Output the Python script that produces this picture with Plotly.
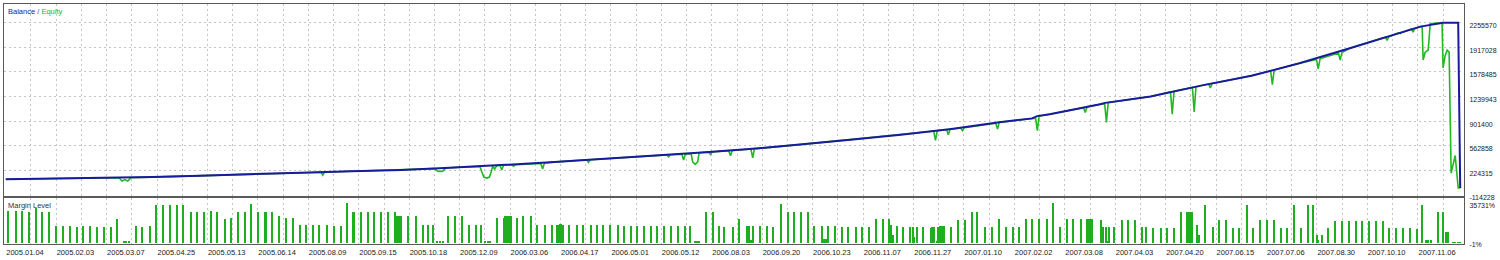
import plotly.graph_objects as go

# ---------------- data ----------------
bal_t = [0, 38, 58, 77, 97, 117, 137, 157, 176, 196, 216, 236, 256, 276, 295, 315, 335, 355, 375,
         394, 407, 409, 414, 434, 436, 454, 474, 494, 513, 533, 545, 561, 570, 576, 576.8]
bal_v = [100000, 116000, 129500, 149800, 174200, 190500, 210800, 228400, 258200, 292000, 332600,
         380000, 420700, 468100, 515500, 576400, 644100, 711800, 793100, 883800, 938000, 969100,
         996200, 1131600, 1151900, 1239900, 1388900, 1524300, 1696300, 1903500, 2034800, 2201400,
         2255570, 2255570, -19400]

eq_t = [0, 38, 44.9, 46.1, 47.2, 48.4, 49.6, 58, 77, 97, 117, 125.0, 125.7, 126.4, 137, 157,
        170.0, 171.3, 172.3, 173.3, 174.3, 176, 188.0, 188.8, 189.6, 190.8, 191.8, 192.5, 193.1,
        193.9, 194.6, 196, 196.7, 197.4, 200.7, 201.4, 202.1, 212.2, 212.9, 213.6, 216, 230.4,
        231.1, 231.8, 236, 256, 262.2, 262.9, 263.6, 268.1, 268.8, 269.5, 271.8, 272.4, 273.4,
        274.4, 275.0, 276, 278.8, 279.5, 280.2, 286.7, 287.4, 288.1, 295.5, 296.2, 296.9, 315,
        335, 355, 368.0, 368.7, 369.4, 373.1, 373.8, 374.5, 378.7, 379.4, 380.1, 392.6, 393.3,
        394.0, 407, 408.4, 409.1, 409.8, 414, 427.4, 428.1, 428.8, 434, 435.8, 436.5, 437.2, 454,
        461.9, 462.6, 463.3, 470.6, 471.3, 472.0, 474, 477.0, 477.7, 478.4, 494, 501.6, 502.3,
        503.0, 513, 519.8, 520.5, 521.2, 528.5, 529.2, 529.9, 533, 545, 547.1, 547.8, 548.5,
        552.3, 553.0, 553.7, 557.4, 558.1, 558.8, 561, 561.7, 562.1, 562.9, 564.1, 564.9, 569.6,
        570.0, 570.8, 571.6, 572.4, 573.2, 574.8, 576.0, 576.8]
eq_v = [100000, 116000, 120700, 75400, 95700, 75400, 122000, 129500, 149800, 174200, 190500,
        196500, 156600, 196800, 210800, 228400, 246000, 212000, 206700, 212000, 248500, 258200,
        278000, 200000, 130000, 116000, 130000, 200000, 280000, 241900, 282000, 292000, 228400,
        292500, 298000, 278500, 300000, 318000, 241900, 320000, 332600, 368000, 332600, 370000,
        380000, 420700, 435000, 409800, 437500, 446500, 363800, 449000, 453000, 340000, 305600,
        340000, 466000, 468100, 473000, 441000, 476000, 494000, 423400, 496000, 516000, 396300,
        519000, 576400, 644100, 711800, 764000, 634600, 768000, 784000, 711800, 788000, 805000,
        770000, 809000, 872000, 793100, 883800, 938000, 940000, 770000, 969100, 996200, 1085000,
        1019200, 1096000, 1131600, 1140000, 883800, 1153000, 1239900, 1305000, 996200, 1312000,
        1365000, 1027300, 1373000, 1388900, 1414000, 1357800, 1419000, 1524300, 1595000, 1402400,
        1603000, 1696300, 1750000, 1619100, 1758000, 1838000, 1741000, 1846000, 1903500, 2034800,
        2057000, 2011800, 2062000, 2117000, 2106600, 2122000, 2170000, 2124200, 2177000, 2201400,
        2203000, 1741000, 1849300, 1876400, 2242000, 2255570, 1632700, 1800000, 1876400, 1849300,
        183700, 427400, -19400, -19400]

margin_t = [0.8, 4.0, 6.7, 9.3, 12.0, 14.6, 17.2, 19.9, 22.8, 25.4, 28.2, 30.7, 33.5, 36.4, 39.0,
            41.7, 44.4, 46.8, 47.8, 48.8, 51.6, 54.3, 57.2, 59.5, 62.6, 65.2, 67.9, 70.5, 73.4,
            76.1, 78.7, 81.3, 84.0, 86.9, 89.5, 92.2, 94.8, 97.5, 100.2, 103.1, 105.8, 108.4,
            111.1, 114.0, 116.6,
            119.0, 121.8, 124.5, 127.3, 130.1, 132.9, 135.6, 138.0, 140.8, 143.6, 146.3, 149.1,
            151.5, 154.3, 155.0, 155.7, 156.4, 157.0, 159.8, 162.6, 165.4, 167.7, 169.7, 171.3,
            172.3, 173.3, 175.3, 178.4, 181.2, 184.0, 186.4, 188.7, 190.3, 191.3, 192.3, 195.1,
            197.5, 198.1, 198.8, 199.5, 200.3, 203.0, 205.4, 208.2, 210.9, 214.1, 216.9, 218.9,
            219.7, 220.4, 221.2, 223.6, 226.8, 229.2, 232.0, 234.7,
            237.1, 239.9, 242.7, 245.4, 248.2, 250.6, 253.3, 256.1, 258.5, 261.3, 264.0, 266.8,
            269.6, 271.6, 273.3, 274.2, 275.1, 277.9, 280.7, 283.1, 285.1, 288.6, 291.0, 294.2,
            294.7, 295.6, 296.5, 299.3, 302.1, 304.5, 307.6, 310.4, 312.8, 315.6, 318.4, 320.7,
            323.9, 324.6, 325.2, 326.3, 329.1, 331.8, 334.2, 337.4, 339.8, 342.5, 345.3, 348.1,
            350.5, 351.3, 352.0, 353.6,
            356.0, 358.8, 360.0, 360.4, 361.5, 363.9, 367.1, 367.5, 368.3, 369.5, 369.9, 370.7,
            371.5, 372.3, 375.0, 377.8, 380.6, 383.3, 385.3, 388.5, 391.3, 394.0, 396.8, 399.6,
            402.0, 404.8, 407.1, 409.9, 413.1, 415.5, 418.2, 421.0, 423.4, 426.5, 428.9, 429.7,
            430.5, 430.9, 434.5, 435.3, 436.5, 437.1, 437.7, 439.6, 442.8, 445.2, 448.0, 450.7,
            452.3, 455.1, 458.3, 460.6, 463.4, 466.2, 468.6, 469.2, 469.8, 470.5, 472.5, 473.3,
            475.7, 478.9, 481.3, 484.1, 486.8, 489.2, 492.3, 494.7, 497.5, 500.3, 503.1, 505.8,
            508.2, 511.0, 513.7, 516.5, 518.5, 520.1, 520.5, 522.1, 524.5, 527.2, 530.0, 532.8,
            535.5, 537.9, 540.7, 543.5, 546.3, 548.6, 551.4, 554.2, 557.0, 559.7, 561.7, 563.3,
            564.3, 565.3, 568.1, 570.0, 571.2, 572.0, 574.0, 575.0, 576.0, 577.0]
margin_v = [28600, 28600, 28600, 27700, 31300, 27700, 27700, 15200, 15200, 15200, 14300, 15200,
            15200, 14300, 14300, 14300, 21400, 900, 900, 900, 15200, 14300, 15200, 33900, 33900,
            33900, 33900, 33900, 27700, 27700, 27700, 28600, 27700, 21400, 22300, 27700, 27700,
            34800, 27700, 27700, 27700, 24100, 22300, 22300, 16100,
            16100, 16100, 16100, 16100, 15200, 15200, 35731, 27700, 27700, 27700, 27700, 27700,
            27700, 27700, 24100, 24100, 24100, 24100, 24100, 24100, 16100, 16100, 16100, 900,
            900, 900, 24100, 24100, 24100, 16100, 16100, 16100, 900, 900, 900, 22300,
            22300, 24100, 24100, 24100, 24100, 22300, 24100, 24100, 16100, 16100, 16100, 16100,
            17000, 17000, 16100, 16100, 16100, 16100, 16100, 16100,
            16100, 16100, 16100, 15200, 15200, 15200, 15200, 15200, 15200, 15200, 15200, 15200,
            15200, 15200, 900, 900, 900, 27700, 27700, 15200, 14300, 14300, 21400, 15200,
            15200, 2700, 15200, 15200, 15200, 14300, 34800, 27700, 27700, 27700, 27700, 15200,
            15200, 3600, 3600, 15200, 15200, 14300, 14300, 14300, 14300, 14300, 21400, 21400,
            21400, 16100, 7100, 15200,
            14300, 14300, 14300, 5400, 14300, 14300, 13400, 14300, 14300, 900, 14300, 15200,
            15200, 15200, 14300, 20500, 20500, 27700, 27700, 14300, 14300, 21400, 14300, 14300,
            14300, 21400, 21400, 21400, 21400, 35731, 14300, 21400, 21400, 21400, 21400, 21400,
            21400, 21400, 20500, 14300, 14300, 900, 14300, 14300, 20500, 20500, 20500, 14300,
            14300, 13400, 13400, 13400, 13400, 27700, 27700, 27700, 27700, 27700, 16100, 7100,
            33900, 14300, 20500, 20500, 13400, 13400, 33900, 13400, 20500, 20500, 20500, 13400,
            13400, 33900, 13400, 33900, 33900, 7100, 2700, 7100, 13400, 19600, 19600, 19600,
            19600, 19600, 19600, 19600, 19600, 13400, 13400, 13400, 13400, 12500, 33900, 2700,
            2700, 2700, 27700, 27700, 9800, 9800, 600, 600, 600, 600]

date_labels = ["2005.01.04", "2005.02.03", "2005.03.07", "2005.04.25", "2005.05.13", "2005.06.14",
               "2005.08.09", "2005.09.15", "2005.10.18", "2005.12.09", "2006.03.06", "2006.04.17",
               "2006.05.01", "2006.05.12", "2006.08.03", "2006.09.20", "2006.10.23", "2006.11.07",
               "2006.11.27", "2007.01.10", "2007.02.02", "2007.03.08", "2007.04.03", "2007.04.20",
               "2007.06.15", "2007.07.06", "2007.08.30", "2007.10.10", "2007.11.06"]

bal_ticks = [2255570, 1917028, 1578485, 1239943, 901400, 562858, 224315, -114228]
margin_ticks = [35731, -1]

# ---------------- styles ----------------
BLUE = "#1a1a9c"
GREEN = "#22b822"
BAR_GREEN = "#1fae1f"
GRID = "#c4c4c4"
FRAME = "#5a5a5a"
FONT = "Liberation Sans, Arial, sans-serif"

label_pos = list(range(10, 10 + 20 * len(date_labels), 20))
minor_pos = list(range(20, 578, 20))
x_range = [-0.7, 578.3]

fig = go.Figure()
fig.add_trace(go.Scatter(x=eq_t, y=eq_v, mode="lines", line=dict(color=GREEN, width=1.6),
                         xaxis="x", yaxis="y", hoverinfo="skip"))
fig.add_trace(go.Scatter(x=bal_t, y=bal_v, mode="lines", line=dict(color=BLUE, width=2),
                         xaxis="x", yaxis="y", hoverinfo="skip"))
fig.add_trace(go.Bar(x=margin_t, y=margin_v, width=0.6, marker=dict(color=BAR_GREEN, line=dict(width=0)),
                     xaxis="x2", yaxis="y2", hoverinfo="skip"))

common_x = dict(range=x_range, showline=True, mirror=True, linecolor=FRAME, linewidth=1,
                zeroline=False, showgrid=True, gridcolor=GRID, griddash="2px,3px", gridwidth=1,
                tickvals=label_pos, ticks="",
                minor=dict(tickvals=minor_pos, showgrid=True, gridcolor=GRID, griddash="2px,3px",
                           gridwidth=1, ticks=""))

fig.update_layout(
    width=1500, height=260,
    margin=dict(l=3, r=36, t=3, b=13),
    paper_bgcolor="white", plot_bgcolor="white",
    showlegend=False, bargap=0,
    font=dict(family=FONT, size=7, color="#222222"),
    xaxis=dict(**common_x, anchor="y", showticklabels=False),
    yaxis=dict(domain=[0.2008, 1], range=[-127770, 2512862], side="right",
               tickvals=bal_ticks, ticktext=[str(v) for v in bal_ticks],
               showline=True, mirror=True, linecolor=FRAME, linewidth=1, zeroline=False,
               showgrid=True, gridcolor=GRID, griddash="2px,3px", ticks="",
               ticklabelstandoff=3, ticklabelshift=3, tickfont=dict(size=7, family=FONT)),
    xaxis2=dict(**common_x, anchor="y2", showticklabels=True,
                ticktext=date_labels, ticklabelshift=-6, ticklabelstandoff=1,
                tickfont=dict(size=7.5, family=FONT)),
    yaxis2=dict(domain=[0, 0.1906], range=[-893, 40630], side="right",
                tickvals=margin_ticks, ticktext=[f"{v}%" for v in margin_ticks],
                showline=True, mirror=True, linecolor=FRAME, linewidth=1, zeroline=False,
                showgrid=False, ticks="", ticklabelstandoff=3, ticklabelshift=2,
                tickfont=dict(size=7, family=FONT)),
    annotations=[
        dict(xref="paper", yref="paper", x=0, y=1, xanchor="left", yanchor="top",
             xshift=2, yshift=-1, showarrow=False, align="left",
             text=f"<span style='color:{BLUE}'>Balance</span> / <span style='color:{GREEN}'>Equity</span>",
             font=dict(size=7.5, family=FONT, color="#555555")),
        dict(xref="paper", yref="paper", x=0, y=0.1906, xanchor="left", yanchor="top",
             xshift=2, yshift=-1, showarrow=False, align="left", text="Margin Level",
             font=dict(size=7.5, family=FONT, color="#333333")),
    ],
)

fig.write_html("out.html")
